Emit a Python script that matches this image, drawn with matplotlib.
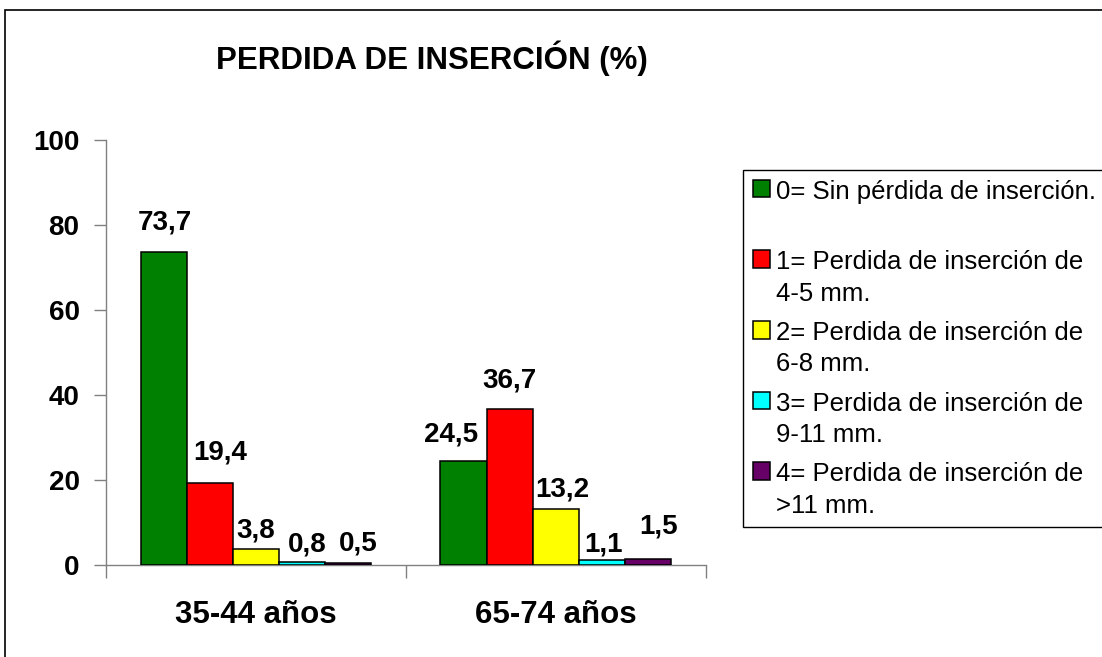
import matplotlib
matplotlib.use("Agg")
import matplotlib.pyplot as plt
from matplotlib.patches import Rectangle
import numpy as np

plt.rcParams['font.family'] = ['Liberation Sans', 'DejaVu Sans']

# ---- data ----
title = "PERDIDA DE INSERCIÓN (%)"
categories = ["35-44 años", "65-74 años"]
series_labels = [
    "0= Sin pérdida de inserción.\n",
    "1= Perdida de inserción de\n4-5 mm.",
    "2= Perdida de inserción de\n6-8 mm.",
    "3= Perdida de inserción de\n9-11 mm.",
    "4= Perdida de inserción de\n>11 mm.",
]
grado0 = [73.7, 24.5]
grado1 = [19.4, 36.7]
grado2 = [3.8, 13.2]
grado3 = [0.8, 1.1]
grado4 = [0.5, 1.5]
yticks = [0, 20, 40, 60, 80, 100]

# ---- styles ----
colors = ["#008000", "#FF0000", "#FFFF00", "#00FFFF", "#660066"]
# data-label offsets (pixels: dx, dy above bar top) per series, per category
label_offsets_px = [
    [(1, 22), (-13, 19)],
    [(10, 23), (0, 22)],
    [(0, 11), (6, 12)],
    [(5, 10), (1, 9)],
    [(10, 12), (10, 25)],
]

W, H = 1102, 657
fig = plt.figure(figsize=(W / 100, H / 100), dpi=100)
ax = fig.add_axes([106 / W, 1 - 565 / H, 600 / W, 425 / H])

series = [grado0, grado1, grado2, grado3, grado4]
x = np.arange(len(categories))
bw = 46.2 / 300
px2pt = 72 / 100
for i, (vals, col) in enumerate(zip(series, colors)):
    xs = x + (i - 2) * bw
    ax.bar(xs, vals, width=bw, color=col, edgecolor="black", linewidth=1.1,
           label=series_labels[i], zorder=3)
    for j, v in enumerate(vals):
        dx, dy = label_offsets_px[i][j]
        ax.annotate(f"{v:.1f}".replace(".", ","), xy=(xs[j], v),
                    xytext=(dx * px2pt, dy * px2pt), textcoords="offset points",
                    ha="center", va="baseline", fontsize=20, fontweight="bold")

ax.set_xlim(-0.5, len(categories) - 0.5)
ax.set_ylim(0, 100)
ax.set_yticks(yticks)
ax.set_yticklabels([str(t) for t in yticks], fontsize=20, fontweight="bold")
ax.set_xticks(x)
ax.set_xticklabels(categories, fontsize=22.5, fontweight="bold")
ax.set_xticks(np.arange(-0.5, len(categories), 1.0), minor=True)
ax.tick_params(axis="x", which="major", length=0, pad=25)
ax.tick_params(axis="x", which="minor", length=9, width=1, color="#808080")
ax.tick_params(axis="y", length=9, width=1, color="#808080", pad=10)

for s in ["top", "right"]:
    ax.spines[s].set_visible(False)
for s in ["left", "bottom"]:
    ax.spines[s].set_color("#808080")
    ax.spines[s].set_linewidth(1)

fig.text(432 / W, 1 - 58 / H, title, ha="center", va="center",
         fontsize=22.5, fontweight="bold")

fs_leg = 18.5
leg = fig.legend(loc="upper left", bbox_to_anchor=(743 / W, 1 - 170 / H),
                 bbox_transform=fig.transFigure, fontsize=fs_leg,
                 frameon=True, fancybox=False, edgecolor="black",
                 framealpha=1, borderaxespad=0, borderpad=0.38,
                 handlelength=0.68, handleheight=0.68, handletextpad=0.24,
                 labelspacing=0.6)
leg.get_frame().set_linewidth(1.0)
for t in leg.get_texts():
    t.set_linespacing(1.38)
for col in leg._legend_handle_box.get_children():
    for row in col.get_children():
        row.align = "top"

fig.patches.append(Rectangle((5 / W, -0.05), 1.2, 1 - 10 / H + 0.05,
                             transform=fig.transFigure, fill=False,
                             edgecolor="black", linewidth=1.2))

fig.savefig("out.png", dpi=100)
